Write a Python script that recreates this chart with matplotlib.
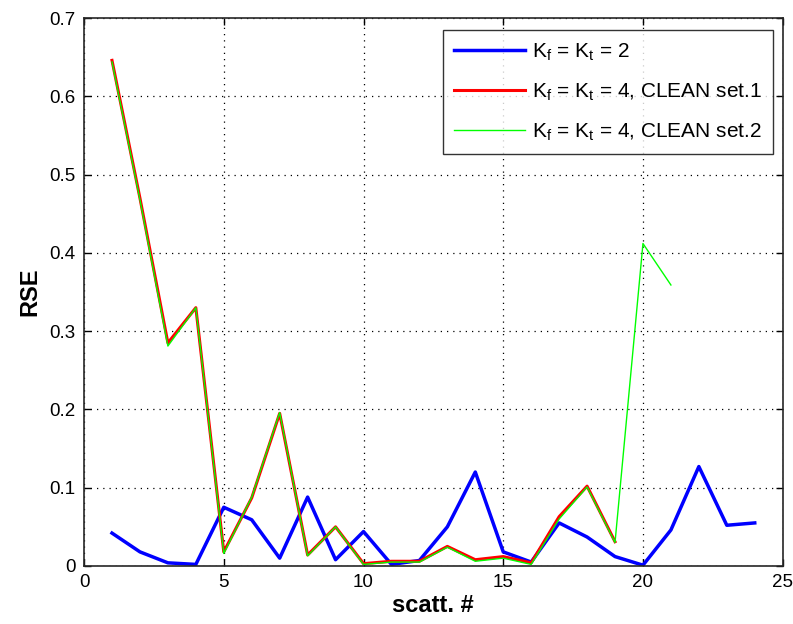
import matplotlib
matplotlib.use("Agg")
import matplotlib.pyplot as plt

plt.rcParams['font.family'] = ['Liberation Sans', 'DejaVu Sans']
plt.rcParams['mathtext.default'] = 'regular'

# RSE per scatterer index
x_k2 = list(range(1, 25))
rse_k2 = [0.042, 0.018, 0.004, 0.002, 0.075, 0.059, 0.010, 0.088, 0.008, 0.044,
          0.002, 0.007, 0.050, 0.120, 0.018, 0.005, 0.055, 0.037, 0.012, 0.001,
          0.046, 0.127, 0.052, 0.055]

x_set1 = list(range(1, 20))
rse_set1 = [0.646, 0.470, 0.285, 0.330, 0.018, 0.087, 0.195, 0.014, 0.050, 0.003,
            0.006, 0.006, 0.025, 0.008, 0.012, 0.004, 0.063, 0.102, 0.031]

x_set2 = list(range(1, 22))
rse_set2 = [0.644, 0.468, 0.281, 0.330, 0.016, 0.088, 0.196, 0.013, 0.050, 0.002,
            0.005, 0.005, 0.024, 0.006, 0.010, 0.002, 0.060, 0.101, 0.030, 0.412,
            0.359]

labels = [r'K$_f$ = K$_t$ = 2',
          r'K$_f$ = K$_t$ = 4, CLEAN set.1',
          r'K$_f$ = K$_t$ = 4, CLEAN set.2']

fig = plt.figure(figsize=(7.93, 6.24), dpi=100)
ax = fig.add_axes([0.106, 0.093, 0.881, 0.878])

ax.plot(x_k2, rse_k2, color='#0000ff', lw=2.5, label=labels[0])
ax.plot(x_set1, rse_set1, color='#ff0000', lw=2.2, label=labels[1])
ax.plot(x_set2, rse_set2, color='#00ff00', lw=1.0, label=labels[2])

ax.set_xlim(0, 25)
ax.set_ylim(0, 0.7)
ax.set_xticks([0, 5, 10, 15, 20, 25])
ax.set_yticks([0, 0.1, 0.2, 0.3, 0.4, 0.5, 0.6, 0.7])
ax.set_yticklabels(['0', '0.1', '0.2', '0.3', '0.4', '0.5', '0.6', '0.7'])
ax.tick_params(direction='in', length=5, width=1, labelsize=13.5,
               top=True, right=True, pad=6)
ax.grid(True, color='black', linestyle=(0, (1, 4)), linewidth=0.9)
for s in ax.spines.values():
    s.set_linewidth(1.2)
    s.set_color('#262626')

ax.set_xlabel('scatt. #', fontsize=17, fontweight='bold', labelpad=2)
ax.set_ylabel('RSE', fontsize=17, fontweight='bold', labelpad=6)

leg = ax.legend(loc='upper right', fontsize=15, frameon=True, fancybox=False,
                handlelength=3.4, handletextpad=0.3, borderpad=0.55,
                labelspacing=0.9, borderaxespad=0,
                bbox_to_anchor=(0.986, 0.978))
leg.get_frame().set_edgecolor('black')
leg.get_frame().set_linewidth(1.0)

fig.savefig('out.png', dpi=100)
